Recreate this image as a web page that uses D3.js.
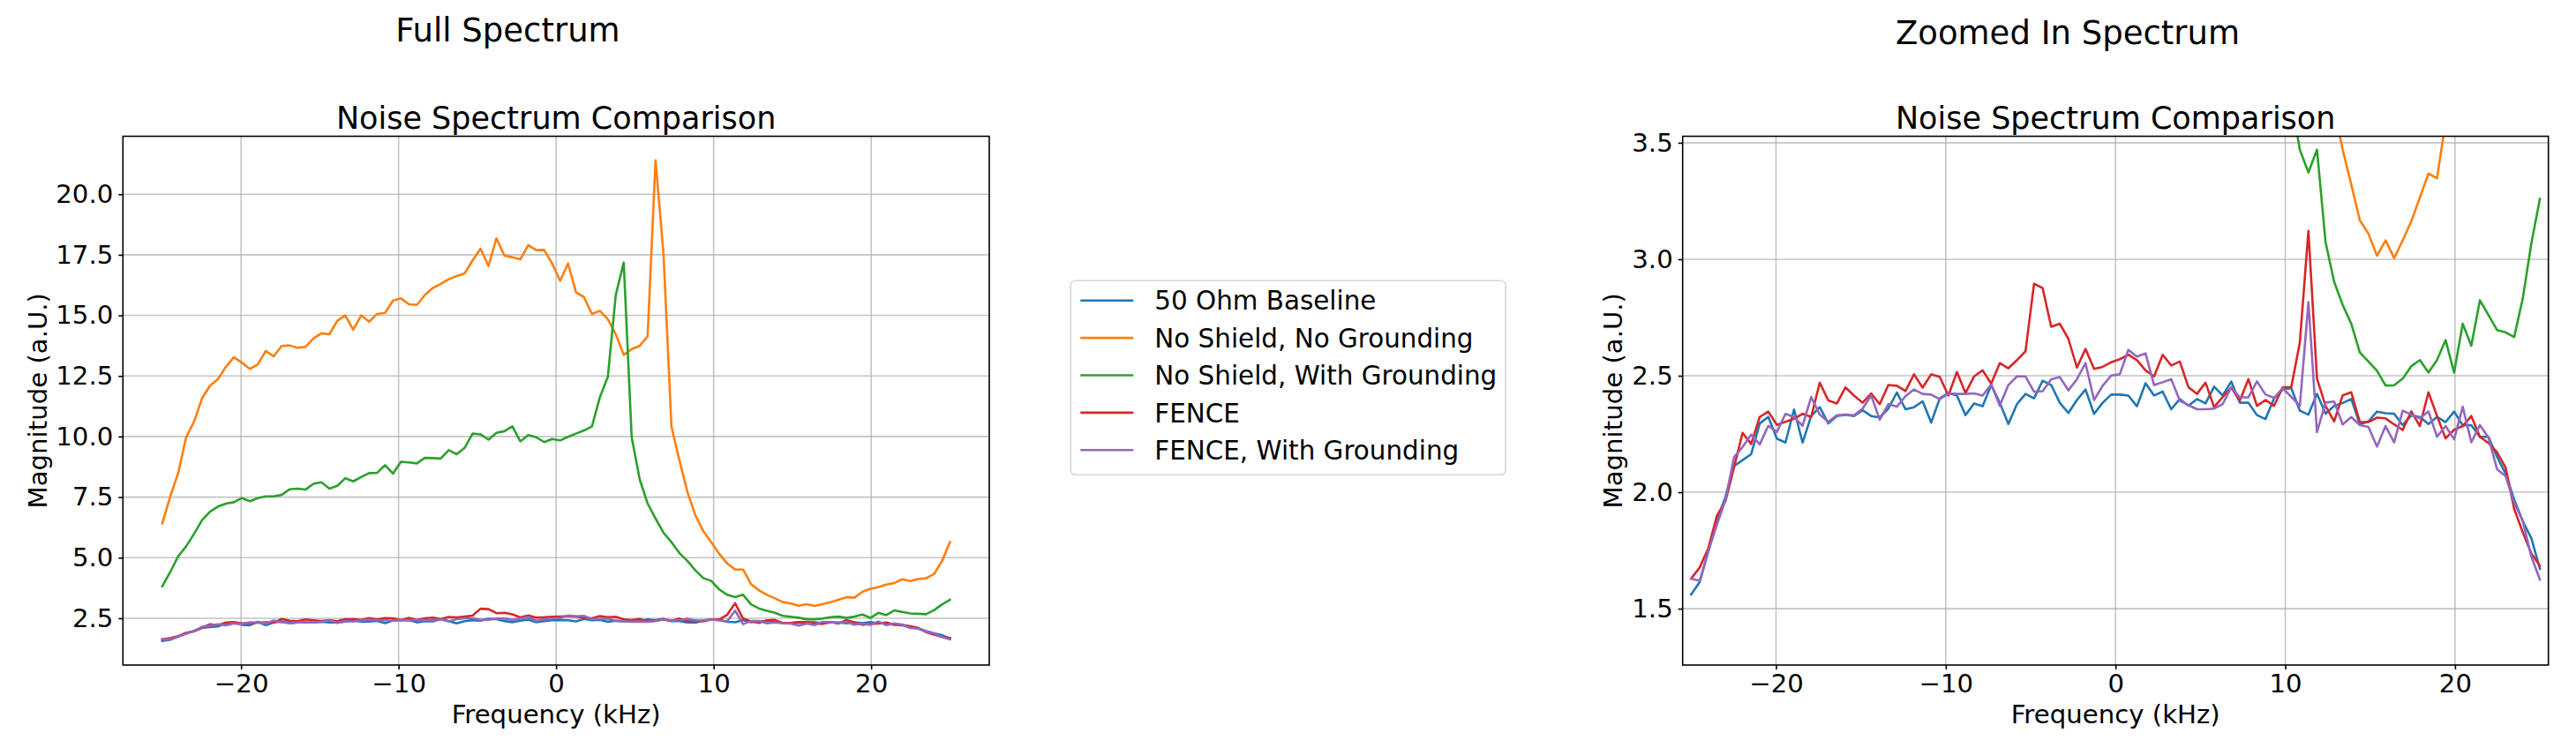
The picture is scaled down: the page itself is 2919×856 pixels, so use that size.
<!DOCTYPE html>
<html>
<head>
<meta charset="utf-8">
<script src="https://cdn.jsdelivr.net/npm/d3@7/dist/d3.min.js"></script>
<style>
  html, body { margin: 0; padding: 0; background: #fff; }
  svg { display: block; font-family: "DejaVu Sans", sans-serif; }
</style>
</head>
<body>
<svg id="chart" width="2919" height="856"></svg>
<script>
// ---------------- DATA ----------------
const frequencies = [
  -25.000,-24.495,-23.990,-23.485,-22.980,-22.475,-21.970,-21.465,-20.960,-20.455,
  -19.949,-19.444,-18.939,-18.434,-17.929,-17.424,-16.919,-16.414,-15.909,-15.404,
  -14.899,-14.394,-13.889,-13.384,-12.879,-12.374,-11.869,-11.364,-10.859,-10.354,
  -9.848,-9.343,-8.838,-8.333,-7.828,-7.323,-6.818,-6.313,-5.808,-5.303,
  -4.798,-4.293,-3.788,-3.283,-2.778,-2.273,-1.768,-1.263,-0.758,-0.253,
  0.253,0.758,1.263,1.768,2.273,2.778,3.283,3.788,4.293,4.798,
  5.303,5.808,6.313,6.818,7.323,7.828,8.333,8.838,9.343,9.848,
  10.354,10.859,11.364,11.869,12.374,12.879,13.384,13.889,14.394,14.899,
  15.404,15.909,16.414,16.919,17.424,17.929,18.434,18.939,19.444,19.949,
  20.455,20.960,21.465,21.970,22.475,22.980,23.485,23.990,24.495,25.000
];

const baseline50Ohm = [
  1.561,1.614,1.746,1.879,1.980,2.112,2.138,2.163,2.295,2.323,
  2.230,2.213,2.355,2.213,2.327,2.365,2.295,2.327,2.333,2.327,
  2.352,2.327,2.321,2.359,2.428,2.356,2.365,2.390,2.299,2.403,
  2.426,2.415,2.331,2.381,2.369,2.460,2.384,2.293,2.378,2.422,
  2.403,2.479,2.460,2.384,2.340,2.396,2.441,2.336,2.384,2.419,
  2.419,2.415,2.369,2.468,2.415,2.432,2.356,2.400,2.371,2.400,
  2.381,2.453,2.415,2.475,2.384,2.384,2.331,2.314,2.403,2.441,
  2.447,2.350,2.333,2.422,2.337,2.370,2.383,2.400,2.291,2.304,
  2.346,2.339,2.337,2.288,2.330,2.323,2.293,2.323,2.301,2.346,
  2.287,2.288,2.238,2.238,2.152,2.080,1.968,1.876,1.803,1.671
];

const noShieldNoGround = [
  6.42,7.53,8.50,9.97,10.62,11.58,12.10,12.37,12.88,13.27,
  13.05,12.79,12.98,13.53,13.31,13.74,13.76,13.66,13.70,14.05,
  14.26,14.22,14.78,15.00,14.41,15.00,14.74,15.06,15.10,15.61,
  15.70,15.46,15.43,15.84,16.13,16.30,16.49,16.62,16.73,17.27,
  17.75,17.04,18.18,17.47,17.40,17.31,17.90,17.69,17.70,17.14,
  16.43,17.14,15.95,15.75,15.06,15.19,14.84,14.22,13.37,13.61,
  13.74,14.13,21.40,17.53,10.41,9.02,7.72,6.75,6.10,5.64,
  5.16,4.76,4.51,4.51,3.91,3.65,3.47,3.32,3.167,3.110,
  3.015,3.081,3.005,3.081,3.163,3.265,3.368,3.348,3.59,3.72,
  3.78,3.89,3.95,4.11,4.04,4.12,4.15,4.32,4.86,5.64
];

const noShieldWithGround = [
  3.82,4.41,5.06,5.47,5.99,6.55,6.90,7.11,7.23,7.29,
  7.46,7.33,7.46,7.53,7.53,7.59,7.82,7.85,7.81,8.05,
  8.11,7.85,7.97,8.28,8.15,8.33,8.49,8.50,8.82,8.47,
  8.96,8.93,8.89,9.12,9.11,9.09,9.44,9.27,9.53,10.12,
  10.09,9.87,10.15,10.22,10.42,9.80,10.06,9.97,9.77,9.90,
  9.84,9.99,10.12,10.25,10.41,11.62,12.46,15.84,17.18,9.97,
  8.24,7.24,6.62,6.03,5.64,5.19,4.87,4.48,4.16,4.04,
  3.69,3.47,3.373,3.470,3.074,2.903,2.804,2.723,2.600,2.561,
  2.521,2.458,2.459,2.488,2.541,2.567,2.514,2.567,2.653,2.514,
  2.723,2.629,2.824,2.761,2.696,2.686,2.666,2.831,3.068,3.259
];

const fence = [
  1.629,1.677,1.759,1.898,1.961,2.106,2.255,2.207,2.323,2.346,
  2.289,2.302,2.315,2.337,2.323,2.470,2.394,2.381,2.450,2.415,
  2.384,2.424,2.378,2.460,2.457,2.434,2.506,2.449,2.506,2.495,
  2.415,2.516,2.426,2.497,2.523,2.466,2.554,2.532,2.567,2.605,
  2.895,2.876,2.710,2.723,2.659,2.535,2.615,2.529,2.538,2.558,
  2.571,2.590,2.567,2.523,2.497,2.590,2.544,2.561,2.451,2.422,
  2.470,2.365,2.409,2.449,2.393,2.485,2.371,2.396,2.371,2.451,
  2.451,2.643,3.122,2.488,2.370,2.304,2.416,2.429,2.301,2.301,
  2.320,2.317,2.291,2.267,2.347,2.284,2.429,2.327,2.231,2.268,
  2.284,2.327,2.238,2.211,2.172,2.106,1.928,1.829,1.737,1.684
];

const fenceWithGround = [
  1.629,1.620,1.746,1.860,1.967,2.150,2.194,2.247,2.205,2.285,
  2.258,2.336,2.323,2.285,2.409,2.333,2.302,2.330,2.333,2.330,
  2.359,2.415,2.311,2.378,2.367,2.412,2.441,2.422,2.419,2.399,
  2.424,2.422,2.422,2.424,2.415,2.463,2.371,2.460,2.497,2.497,
  2.431,2.434,2.485,2.494,2.437,2.485,2.554,2.396,2.457,2.501,
  2.506,2.611,2.582,2.596,2.460,2.472,2.485,2.393,2.374,2.356,
  2.356,2.359,2.378,2.451,2.407,2.407,2.476,2.419,2.405,2.447,
  2.409,2.371,2.816,2.258,2.385,2.389,2.291,2.323,2.288,2.280,
  2.196,2.284,2.214,2.350,2.333,2.317,2.347,2.238,2.284,2.227,
  2.367,2.214,2.288,2.235,2.099,2.069,1.955,1.876,1.724,1.625
];

const seriesNames = ["50 Ohm Baseline", "No Shield, No Grounding", "No Shield, With Grounding", "FENCE", "FENCE, With Grounding"];
const seriesValues = [baseline50Ohm, noShieldNoGround, noShieldWithGround, fence, fenceWithGround];
const seriesColors = ["#1f77b4", "#ff7f0e", "#2ca02c", "#d62728", "#9467bd"];

const xTickValues = [-20, -10, 0, 10, 20];
const fullYTicks = [2.5, 5.0, 7.5, 10.0, 12.5, 15.0, 17.5, 20.0];
const zoomYTicks = [1.5, 2.0, 2.5, 3.0, 3.5];

const figureTitles = ["Full Spectrum", "Zoomed In Spectrum"];
const axesTitle = "Noise Spectrum Comparison";
const xLabel = "Frequency (kHz)";
const yLabel = "Magnitude (a.U.)";

// ---------------- DRAW ----------------
(function () {
const svg = d3.select("#chart");
const FONT = 29.2;
const LEGEND_FONT = 29.4;
const TITLE_FONT = 35;
const SUP_FONT = 37;
const axTop = 154.5, axBottom = 754;
const minus = s => s.replace("-", "\u2212");

// y extent of full spectrum with matplotlib-like 5% margins
const allVals = seriesValues.flat();
const yMin = d3.min(allVals), yMax = d3.max(allVals);
const yPad = (yMax - yMin) * 0.05;

const panels = [
  { left: 139.3, right: 1121, xDomain: [-27.5, 27.5], yDomain: [yMin - yPad, yMax + yPad],
    yTicks: fullYTicks, yFmt: d3.format(".1f"), sup: figureTitles[0], supX: 575.5, supY: 46.5, ylabX: 52.5 },
  { left: 1906.7, right: 2887.7, xDomain: [-25.5, 25.5], yDomain: [1.258, 3.528],
    yTicks: zoomYTicks, yFmt: d3.format(".1f"), sup: figureTitles[1], supX: 2343, supY: 50, ylabX: 1838 }
];

const defs = svg.append("defs");

panels.forEach((p, pi) => {
  const x = d3.scaleLinear().domain(p.xDomain).range([p.left, p.right]);
  const y = d3.scaleLinear().domain(p.yDomain).range([axBottom, axTop]);
  const g = svg.append("g");

  // grid
  const grid = g.append("g").attr("stroke", "#b0b0b0").attr("stroke-width", 1.6).attr("stroke-opacity", 0.75);
  xTickValues.forEach(t => grid.append("line").attr("x1", x(t)).attr("x2", x(t)).attr("y1", axTop).attr("y2", axBottom));
  p.yTicks.forEach(t => grid.append("line").attr("x1", p.left).attr("x2", p.right).attr("y1", y(t)).attr("y2", y(t)));

  // clip
  const clipId = "clip" + pi;
  defs.append("clipPath").attr("id", clipId)
    .append("rect").attr("x", p.left).attr("y", axTop).attr("width", p.right - p.left).attr("height", axBottom - axTop);

  const line = d3.line().x((d, i) => x(frequencies[i])).y(d => y(d));
  const lines = g.append("g").attr("clip-path", `url(#${clipId})`);
  seriesValues.forEach((vals, si) => {
    lines.append("path").datum(vals).attr("d", line)
      .attr("fill", "none").attr("stroke", seriesColors[si]).attr("stroke-width", 2.6)
      .attr("stroke-linejoin", "round").attr("stroke-linecap", "square");
  });

  // axes
  const xAxis = d3.axisBottom(x).tickValues(xTickValues).tickSize(5).tickSizeOuter(0).tickPadding(5)
    .tickFormat(d => minus(String(d)));
  const yAxis = d3.axisLeft(y).tickValues(p.yTicks).tickSize(5).tickSizeOuter(0).tickPadding(6)
    .tickFormat(p.yFmt);
  const xa = g.append("g").attr("transform", `translate(0,${axBottom})`).call(xAxis);
  const ya = g.append("g").attr("transform", `translate(${p.left},0)`).call(yAxis);
  [xa, ya].forEach(a => {
    a.select(".domain").remove();
    a.selectAll(".tick line").attr("stroke", "#000").attr("stroke-width", 1.6);
    a.selectAll(".tick text").attr("fill", "#000").style("font-size", FONT + "px").style("font-family", "DejaVu Sans");
  });

  // frame
  g.append("rect").attr("x", p.left).attr("y", axTop).attr("width", p.right - p.left).attr("height", axBottom - axTop)
    .attr("fill", "none").attr("stroke", "#000").attr("stroke-width", 1.6);

  // titles & labels
  const cx = (p.left + p.right) / 2;
  g.append("text").attr("x", cx).attr("y", 146).attr("text-anchor", "middle")
    .style("font-size", TITLE_FONT + "px").text(axesTitle);
  g.append("text").attr("x", p.supX).attr("y", p.supY).attr("text-anchor", "middle")
    .style("font-size", SUP_FONT + "px").text(p.sup);
  g.append("text").attr("x", cx).attr("y", 819.5).attr("text-anchor", "middle")
    .style("font-size", FONT + "px").text(xLabel);
  g.append("text").attr("transform", `translate(${p.ylabX},${(axTop + axBottom) / 2}) rotate(-90)`)
    .attr("text-anchor", "middle").style("font-size", FONT + "px").text(yLabel);
});

// legend
const leg = svg.append("g");
leg.append("rect").attr("x", 1213.3).attr("y", 318.3).attr("width", 492.7).attr("height", 220)
  .attr("rx", 5).attr("ry", 5).attr("fill", "#fff").attr("stroke", "#d6d6d6").attr("stroke-width", 1.6);
const legRow = d3.scaleLinear().domain([0, seriesNames.length - 1]).range([340.7, 510.3]);
seriesNames.forEach((name, i) => {
  const ly = legRow(i);
  leg.append("line").attr("x1", 1224.3).attr("x2", 1284.3).attr("y1", ly).attr("y2", ly)
    .attr("stroke", seriesColors[i]).attr("stroke-width", 2.6);
  leg.append("text").attr("x", 1308.3).attr("y", ly + 0.3645 * LEGEND_FONT)
    .style("font-size", LEGEND_FONT + "px").text(name);
});
})();
</script>
</body>
</html>
